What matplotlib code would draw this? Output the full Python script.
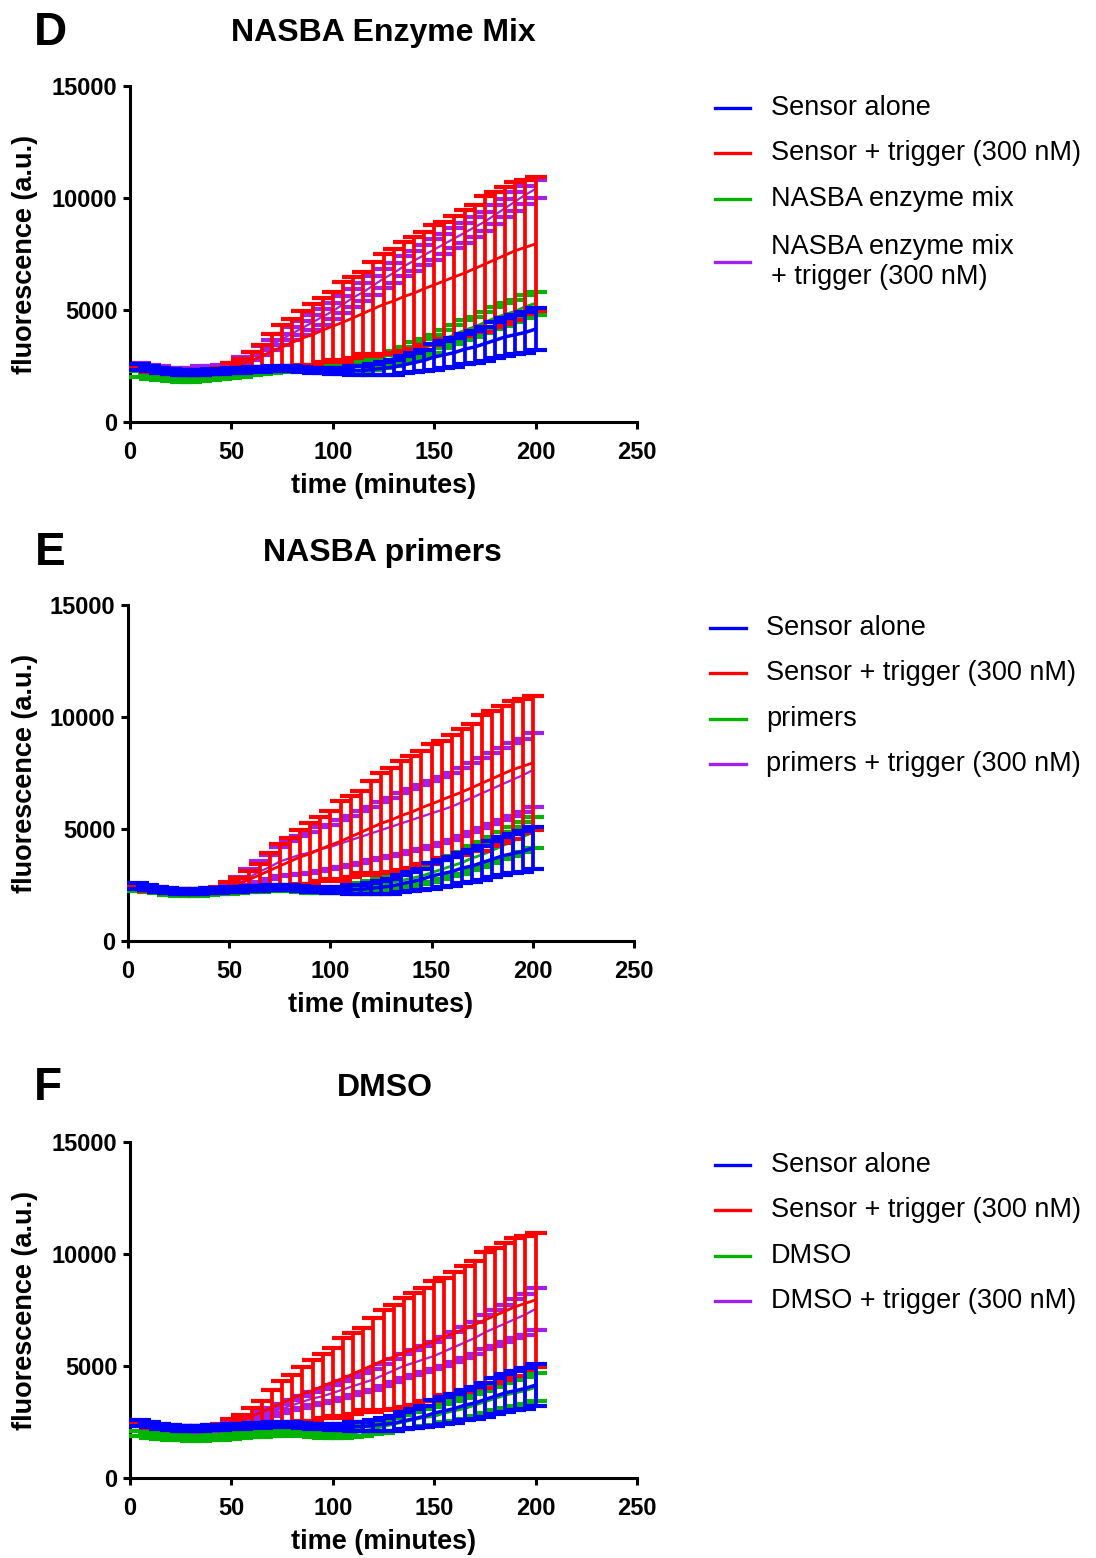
import numpy as np
import matplotlib
matplotlib.use("Agg")
import matplotlib.pyplot as plt
from matplotlib.lines import Line2D

plt.rcParams['font.family'] = ['Liberation Sans', 'DejaVu Sans']

# sampling times (min)
minutes = [5, 10, 15, 20, 25, 30, 35, 40, 45, 50,
           55, 60, 65, 70, 75, 80, 85, 90, 95, 100,
           105, 110, 115, 120, 125, 130, 135, 140, 145, 150,
           155, 160, 165, 170, 175, 180, 185, 190, 195, 200]

# controls shared by all three panels
sensor_mean = [2450, 2400, 2300, 2250, 2200, 2200, 2200, 2250, 2250, 2300,
               2300, 2350, 2350, 2400, 2400, 2400, 2350, 2300, 2300, 2280,
               2280, 2300, 2300, 2350, 2400, 2450, 2550, 2650, 2750, 2900,
               3000, 3100, 3250, 3350, 3500, 3650, 3800, 3900, 4000, 4150]
sensor_sd = [120, 120, 120, 120, 120, 120, 120, 120, 120, 120,
             120, 120, 120, 120, 120, 120, 120, 120, 120, 120,
             150, 180, 210, 250, 290, 330, 380, 430, 480, 560,
             600, 640, 680, 720, 760, 800, 840, 880, 900, 930]

trig_mean = [2450, 2350, 2300, 2250, 2200, 2200, 2220, 2250, 2300, 2400,
             2550, 2750, 2950, 3150, 3350, 3550, 3750, 3900, 4100, 4280,
             4450, 4650, 4850, 5050, 5250, 5400, 5600, 5750, 5950, 6120,
             6300, 6480, 6650, 6850, 7050, 7250, 7450, 7650, 7800, 7950]
trig_sd = [100, 100, 100, 100, 100, 100, 100, 100, 100, 220,
           250, 390, 490, 780, 980, 1030, 1220, 1370, 1420, 1510,
           1785, 1810, 1830, 2110, 2235, 2310, 2450, 2490, 2520, 2670,
           2610, 2720, 2810, 2820, 3050, 3020, 3055, 3080, 3000, 3000]

# D: NASBA enzyme mix
enz_mean = [2150, 2050, 2000, 1950, 1900, 1900, 1950, 2000, 2050, 2100,
            2150, 2200, 2250, 2300, 2350, 2400, 2400, 2400, 2400, 2400,
            2420, 2450, 2500, 2600, 2700, 2850, 3000, 3200, 3300, 3500,
            3700, 3900, 4100, 4250, 4450, 4650, 4800, 4950, 5150, 5300]
enz_sd = [120, 120, 120, 120, 120, 120, 120, 120, 120, 120,
          120, 120, 120, 120, 120, 120, 120, 120, 120, 120,
          150, 180, 220, 260, 300, 330, 350, 380, 390, 400,
          410, 420, 440, 450, 470, 490, 500, 500, 510, 520]
enz_trig_mean = [2550, 2450, 2400, 2350, 2350, 2350, 2400, 2400, 2450, 2550,
                 2750, 2950, 3200, 3450, 3700, 3950, 4200, 4450, 4700, 4950,
                 5250, 5550, 5800, 6100, 6400, 6650, 6950, 7200, 7450, 7700,
                 7950, 8200, 8450, 8700, 8950, 9250, 9550, 9850, 10150, 10400]
enz_trig_sd = [80, 80, 80, 80, 80, 80, 80, 80, 80, 100,
               130, 160, 190, 220, 250, 280, 310, 330, 350, 370,
               390, 400, 410, 420, 430, 440, 450, 450, 450, 450,
               450, 450, 450, 450, 440, 430, 420, 410, 400, 400]

# E: NASBA primers
prim_mean = [2350, 2300, 2250, 2150, 2100, 2100, 2100, 2150, 2200, 2200,
             2250, 2300, 2300, 2350, 2350, 2350, 2300, 2250, 2250, 2250,
             2300, 2350, 2400, 2450, 2500, 2600, 2700, 2800, 2900, 3050,
             3200, 3350, 3500, 3700, 3850, 4050, 4250, 4450, 4650, 4850]
prim_sd = [100, 100, 100, 100, 100, 100, 100, 100, 100, 100,
           100, 100, 100, 100, 100, 100, 100, 100, 100, 100,
           130, 160, 190, 220, 250, 280, 310, 340, 370, 400,
           430, 460, 490, 520, 550, 580, 610, 640, 670, 700]
prim_trig_mean = [2400, 2350, 2250, 2200, 2150, 2150, 2150, 2200, 2250, 2400,
                  2600, 2850, 3100, 3300, 3550, 3700, 3850, 3950, 4100, 4200,
                  4350, 4500, 4650, 4800, 4950, 5100, 5250, 5400, 5550, 5700,
                  5850, 6000, 6200, 6400, 6600, 6800, 7000, 7200, 7400, 7630]
prim_trig_sd = [80, 80, 80, 80, 80, 80, 80, 80, 80, 150,
                250, 350, 450, 550, 650, 750, 850, 920, 970, 1000,
                1050, 1100, 1150, 1200, 1250, 1300, 1350, 1400, 1430, 1450,
                1480, 1500, 1520, 1540, 1560, 1580, 1600, 1620, 1630, 1640]

# F: DMSO
dmso_mean = [2000, 1900, 1850, 1800, 1800, 1750, 1750, 1800, 1800, 1850,
             1900, 1950, 1950, 2000, 2000, 2050, 2000, 1950, 1900, 1900,
             1950, 2000, 2100, 2200, 2300, 2400, 2500, 2600, 2700, 2750,
             2900, 3000, 3100, 3250, 3400, 3550, 3700, 3800, 3900, 4050]
dmso_sd = [120, 120, 120, 120, 120, 120, 120, 120, 120, 120,
           120, 120, 120, 120, 120, 120, 120, 120, 120, 120,
           150, 180, 210, 240, 270, 300, 330, 360, 380, 400,
           420, 440, 460, 480, 500, 530, 560, 590, 610, 630]
dmso_trig_mean = [2400, 2300, 2250, 2200, 2150, 2150, 2150, 2200, 2250, 2350,
                  2500, 2650, 2800, 2950, 3100, 3250, 3400, 3550, 3650, 3800,
                  3950, 4100, 4250, 4400, 4600, 4800, 5000, 5150, 5300, 5450,
                  5650, 5850, 6050, 6250, 6500, 6700, 6900, 7100, 7300, 7550]
dmso_trig_sd = [80, 80, 80, 80, 80, 80, 80, 80, 80, 100,
                120, 140, 160, 180, 200, 230, 260, 290, 320, 350,
                380, 400, 430, 460, 490, 510, 540, 560, 580, 600,
                630, 660, 690, 720, 760, 800, 840, 870, 900, 930]

x_ticks = [0, 50, 100, 150, 200, 250]
y_ticks = [0, 5000, 10000, 15000]

BLUE = '#0000FF'
RED = '#FF0000'
GREEN = '#00B400'
PURPLE = '#A020F0'

W, H = 1096, 1558


def fx(x):
    return x / W


def fy(y):
    return 1 - y / H


panels = [
    dict(letter='D', title='NASBA Enzyme Mix', left=130, right=637, top=86, bottom=422,
         title_y=33, title_x=383, letter_x=50,
         green=(enz_mean, enz_sd), purple=(enz_trig_mean, enz_trig_sd),
         labels=['Sensor alone', 'Sensor + trigger (300 nM)', 'NASBA enzyme mix',
                 'NASBA enzyme mix\n+ trigger (300 nM)'],
         leg_x=(715, 750, 771), leg_y=[108, 153, 199, 262]),
    dict(letter='E', title='NASBA primers', left=128, right=634, top=605, bottom=941,
         title_y=553, title_x=382, letter_x=50,
         green=(prim_mean, prim_sd), purple=(prim_trig_mean, prim_trig_sd),
         labels=['Sensor alone', 'Sensor + trigger (300 nM)', 'primers',
                 'primers + trigger (300 nM)'],
         leg_x=(710, 746, 766), leg_y=[628, 673, 719, 764]),
    dict(letter='F', title='DMSO', left=130, right=637, top=1142, bottom=1478,
         title_y=1088, title_x=385, letter_x=48,
         green=(dmso_mean, dmso_sd), purple=(dmso_trig_mean, dmso_trig_sd),
         labels=['Sensor alone', 'Sensor + trigger (300 nM)', 'DMSO',
                 'DMSO + trigger (300 nM)'],
         leg_x=(715, 750, 771), leg_y=[1165, 1210, 1256, 1301]),
]

fig = plt.figure(figsize=(W / 100, H / 100), dpi=100)

for p in panels:
    ax = fig.add_axes([fx(p['left']), fy(p['bottom']),
                       (p['right'] - p['left']) / W, (p['bottom'] - p['top']) / H])

    # purple underneath, then green, red, blue on top
    pm, ps = p['purple']
    ax.errorbar(minutes, pm, yerr=ps, color=PURPLE, lw=1.6, elinewidth=0.8,
                capsize=8, capthick=3, zorder=2, clip_on=False)
    gm, gs = p['green']
    ax.errorbar(minutes, gm, yerr=gs, color=GREEN, lw=2, elinewidth=2.7,
                capsize=8, capthick=3, zorder=3, clip_on=False)
    ax.errorbar(minutes, trig_mean, yerr=trig_sd, color=RED, lw=2, elinewidth=2.7,
                capsize=8, capthick=3, zorder=4, clip_on=False)
    ax.errorbar(minutes, sensor_mean, yerr=sensor_sd, color=BLUE, lw=2.5, elinewidth=2.7,
                capsize=8, capthick=3, zorder=5, clip_on=False)

    ax.set_xlim(0, 250)
    ax.set_ylim(0, 15000)
    ax.set_xticks(x_ticks)
    ax.set_yticks(y_ticks)
    for s in ['top', 'right']:
        ax.spines[s].set_visible(False)
    for s in ['left', 'bottom']:
        ax.spines[s].set_linewidth(2.2)
    ax.tick_params(direction='out', length=5, width=2.2, labelsize=17)
    ax.tick_params(axis='x', pad=9)
    ax.tick_params(axis='y', pad=4)
    for lab in ax.get_xticklabels() + ax.get_yticklabels():
        lab.set_fontweight('bold')

    ax.set_xlabel('time (minutes)', fontsize=19.5, fontweight='bold')
    ax.xaxis.set_label_coords(0.5, -0.19)
    ax.xaxis.label.set_va('center')
    ax.set_ylabel('fluorescence (a.u.)', fontsize=19.5, fontweight='bold')
    ax.yaxis.set_label_coords((25 - p['left']) / (p['right'] - p['left']), 0.5)
    ax.yaxis.label.set_va('center')

    fig.text(fx(p['title_x']), fy(p['title_y']), p['title'], ha='center', va='center',
             fontsize=23, fontweight='bold')
    fig.text(fx(p['letter_x']), fy(p['title_y']), p['letter'], ha='center', va='center',
             fontsize=33, fontweight='bold')

    # legend drawn by hand on the right
    x0, x1, xt = p['leg_x']
    for c, lab, y in zip([BLUE, RED, GREEN, PURPLE], p['labels'], p['leg_y']):
        fig.add_artist(Line2D([fx(x0), fx(x1)], [fy(y), fy(y)], transform=fig.transFigure,
                              color=c, lw=2.4))
        fig.text(fx(xt), fy(y), lab, ha='left', va='center', fontsize=19.5,
                 linespacing=1.2)

fig.savefig('out.png', dpi=100)
